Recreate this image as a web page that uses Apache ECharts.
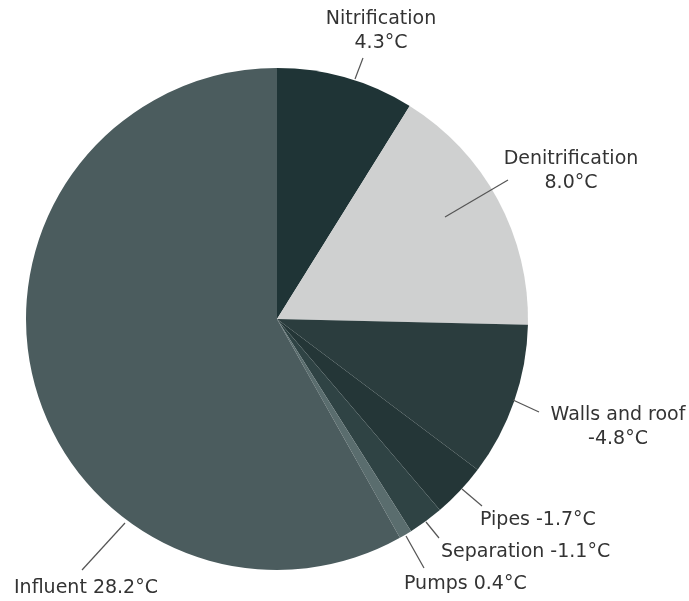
<!DOCTYPE html>
<html>
<head>
<meta charset="utf-8">
<script src="https://cdn.jsdelivr.net/npm/echarts@6/dist/echarts.min.js"></script>
<style>
  html, body { margin: 0; padding: 0; background: #fff; }
  #chart { width: 689px; height: 601px; }
</style>
</head>
<body>
<div id="chart"></div>
<script>
// Heat balance contributions (°C), clockwise from 12 o'clock
const names = ['Nitrification', 'Denitrification', 'Walls and roof', 'Pipes', 'Separation', 'Pumps', 'Influent'];
const values = [4.3, 8.0, 4.8, 1.7, 1.1, 0.4, 28.2];
const labelTexts = [
  'Nitrification\n4.3°C',
  'Denitrification\n8.0°C',
  'Walls and roof\n-4.8°C',
  'Pipes -1.7°C',
  'Separation -1.1°C',
  'Pumps 0.4°C',
  'Influent 28.2°C'
];

const sliceColors = ['#1f3436', '#cfd0d0', '#2b3d3e', '#243637', '#2f4344', '#5a6d6e', '#4b5c5e'];

// Where each label sits and how its leader line runs
const labelPlacement = [
  { x: 381, y: 7,   align: 'center', line: [[355, 79], [363, 58]] },
  { x: 571, y: 147, align: 'center', line: [[445, 217], [508, 180]] },
  { x: 618, y: 403, align: 'center', line: [[513, 400], [539, 412]] },
  { x: 480, y: 508, align: 'left',   line: [[462, 489], [482, 506]] },
  { x: 441, y: 540, align: 'left',   line: [[426, 522], [439, 538]] },
  { x: 404, y: 572, align: 'left',   line: [[406, 536], [424, 568]] },
  { x: 14,  y: 576, align: 'left',   line: [[125, 523], [82, 570]] }
];

const pieGeom = {
  type: 'pie',
  center: [277, 319],
  radius: [0, 251],
  startAngle: 90,
  clockwise: true,
  avoidLabelOverlap: false,
  silent: true
};

const chart = echarts.init(document.getElementById('chart'), null, { renderer: 'canvas' });

chart.setOption({
  backgroundColor: '#ffffff',
  animation: false,
  series: [
    // the slices
    Object.assign({}, pieGeom, {
      z: 2,
      itemStyle: { borderWidth: 0 },
      label: { show: false },
      labelLine: { show: false },
      data: names.map((n, i) => ({
        name: n,
        value: values[i],
        itemStyle: { color: sliceColors[i] }
      }))
    }),
    // labels and leader lines drawn over the slices
    Object.assign({}, pieGeom, {
      z: 3,
      itemStyle: { color: 'rgba(0,0,0,0)', borderWidth: 0 },
      label: {
        show: true,
        color: '#333333',
        fontFamily: 'DejaVu Sans',
        fontSize: 19,
        lineHeight: 24,
        formatter: p => labelTexts[p.dataIndex]
      },
      labelLine: {
        show: true,
        lineStyle: { color: '#555555', width: 1.2, opacity: 1 }
      },
      labelLayout: params => {
        const pl = labelPlacement[params.dataIndex];
        return {
          x: pl.x,
          y: pl.y,
          align: pl.align,
          verticalAlign: 'top',
          labelLinePoints: [pl.line[0], pl.line[1], pl.line[1]]
        };
      },
      data: names.map((n, i) => ({ name: n, value: values[i] }))
    })
  ]
});
</script>
</body>
</html>
